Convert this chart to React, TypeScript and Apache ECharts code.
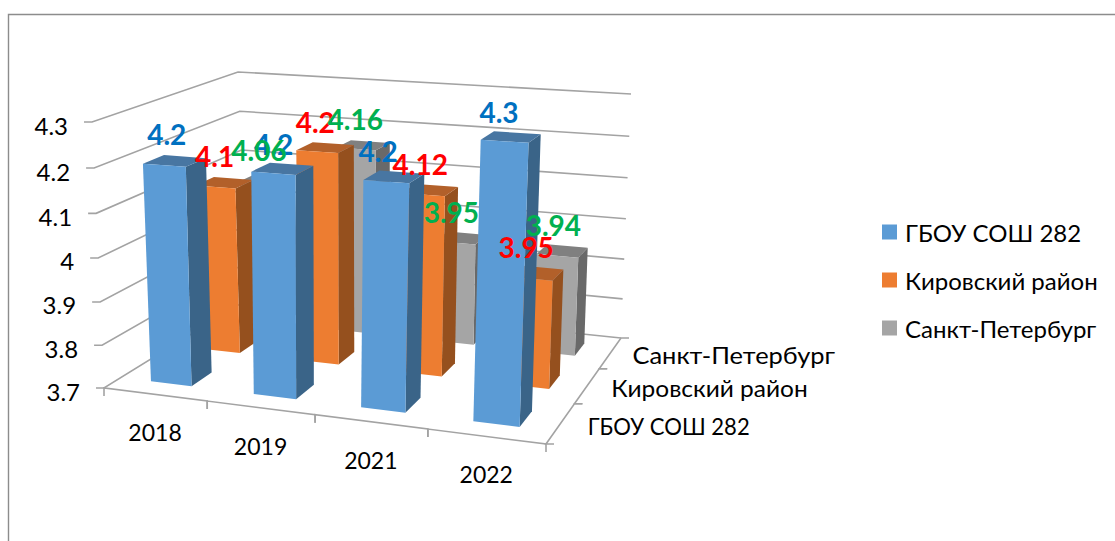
import React, { useEffect, useRef } from "react";
import * as echarts from "echarts";

const categories = ["2018", "2019", "2021", "2022"];
const seriesNames = ["ГБОУ СОШ 282", "Кировский район", "Санкт-Петербург"];
const schoolValues = [4.2, 4.2, 4.2, 4.3];
const districtValues = [4.1, 4.2, 4.12, 3.95];
const cityValues = [4.06, 4.16, 3.95, 3.94];
const valueTicks = [3.7, 3.8, 3.9, 4, 4.1, 4.2, 4.3];

const FONT = 'Lato, "Noto Sans", sans-serif';
const GRID_W = 1000;
const GRID_H = 500;
type P = [number, number];

function quadMap(q: P[]) {
  const [p0, p1, p2, p3] = q;
  const dx1 = p1[0] - p2[0], dx2 = p3[0] - p2[0], sx = p0[0] - p1[0] + p2[0] - p3[0];
  const dy1 = p1[1] - p2[1], dy2 = p3[1] - p2[1], sy = p0[1] - p1[1] + p2[1] - p3[1];
  const den = dx1 * dy2 - dx2 * dy1;
  const g = (sx * dy2 - dx2 * sy) / den;
  const h = (dx1 * sy - sx * dy1) / den;
  const a = p1[0] - p0[0] + g * p1[0], b = p3[0] - p0[0] + h * p3[0];
  const d = p1[1] - p0[1] + g * p1[1], e = p3[1] - p0[1] + h * p3[1];
  return (u: number, v: number): P => {
    const w = 1 + g * u + h * v;
    return [(a * u + b * v + p0[0]) / w, (d * u + e * v + p0[1]) / w];
  };
}
const floor = quadMap([[104, 388], [546, 444], [621, 338], [248, 299]]);
const ceiling = quadMap([[92, 122], [556, 152], [631, 94], [238, 72]]);
const WZ = -0.044;
// x: along categories, y: depth (0 = front), z: height; all 0..1
function project(x: number, y: number, z: number): P {
  const a = floor(x, y), b = ceiling(x, y);
  const t = (z * (1 + WZ)) / (1 + WZ * z);
  return [a[0] + (b[0] - a[0]) * t, a[1] + (b[1] - a[1]) * t];
}

const normX = (api: any, i: number) => api.coord([i, 3.7])[0] / GRID_W;
const normZ = (api: any, v: number) => 1 - api.coord([0, v])[1] / GRID_H;
const LINE = { stroke: "#a3a3a3", lineWidth: 1.6, fill: "none" };
const poly = (points: P[], fill: string) => ({ type: "polygon", shape: { points }, style: { fill }, silent: true });
const line = (points: P[]) => ({ type: "polyline", shape: { points }, style: LINE, silent: true });
const text = (t: string, p: P, fill: string, fontSize: number, align: string, fontWeight = "normal", scaleX = 1) => ({
  type: "text",
  x: p[0],
  y: p[1],
  scaleX,
  silent: true,
  style: { text: t, fill, fontSize, fontFamily: FONT, fontWeight, align, verticalAlign: "middle" },
});

const shades = [
  { front: "#5b9bd5", side: "#3a6488", top: "#4876a2" },
  { front: "#ed7d31", side: "#95501e", top: "#b2602a" },
  { front: "#a5a5a5", side: "#696969", top: "#808080" },
];
const labelColors = ["#0070c0", "#ff0000", "#00b050"];
// hand placement of the data labels relative to each bar's top centre
const labelShift: P[][] = [
  [[-8, -27], [-9, -25], [-16, -26], [-12, -25]],
  [[-10, -27], [-10, -26], [-10, -26], [-10, -26]],
  [[-9, -28], [-8, -26], [-10, -26], [-9, -26]],
];
const depthLabelScale = [0.92, 1.02, 1.06];

const barSeries = (row: number, values: number[]) => ({
  type: "custom",
  name: seriesNames[row],
  coordinateSystem: "cartesian2d",
  clip: false,
  itemStyle: { color: shades[row].front },
  data: values.map((v, i) => [i, v]),
  renderItem: (_: any, api: any) => {
    const cx = normX(api, api.value(0));
    const half = (api.size([1, 0])[0] / GRID_W) * 0.2;
    const z0 = normZ(api, 3.7);
    const z1 = normZ(api, api.value(1));
    const y0 = row / 3 + 0.1;
    const y1 = y0 + 1 / 3 / 2.5;
    const x0 = cx - half, x1 = cx + half;
    const s = shades[row];
    return {
      type: "group",
      children: [
        poly([project(x1, y0, z0), project(x1, y1, z0), project(x1, y1, z1), project(x1, y0, z1)], s.side),
        poly([project(x0, y0, z1), project(x1, y0, z1), project(x1, y1, z1), project(x0, y1, z1)], s.top),
        poly([project(x0, y0, z0), project(x1, y0, z0), project(x1, y0, z1), project(x0, y0, z1)], s.front),
      ],
    };
  },
});

const labelSeries = (row: number, values: number[]) => ({
  type: "custom",
  coordinateSystem: "cartesian2d",
  clip: false,
  z: 5,
  data: values.map((v, i) => [i, v]),
  renderItem: (_: any, api: any) => {
    const i = api.value(0);
    const v = api.value(1);
    const y = row / 3 + 1 / 6;
    const p = project(normX(api, i), y, normZ(api, v));
    const d = labelShift[row][i];
    return text(String(v), [p[0] + d[0], p[1] + d[1]], labelColors[row], 28, "center", "bold");
  },
});

const valueAxisSeries = {
  type: "custom",
  coordinateSystem: "cartesian2d",
  clip: false,
  data: valueTicks.map((v) => [0, v]),
  renderItem: (_: any, api: any) => {
    const v = api.value(1);
    const z = normZ(api, v);
    const a = project(0, 0, z);
    return {
      type: "group",
      children: [
        line([[a[0] - 8, a[1]], a, project(0, 1, z), project(1, 1, z)]),
        text(String(v), [a[0] - 24, a[1] + 3], "#000", 24, "right"),
      ],
    };
  },
};

const frontAxisSeries = {
  type: "custom",
  coordinateSystem: "cartesian2d",
  clip: false,
  data: categories.map((_, i) => [i, 3.7]),
  renderItem: (_: any, api: any) => {
    const i = api.value(0);
    const half = (api.size([1, 0])[0] / GRID_W) / 2;
    const cx = normX(api, i);
    const a = project(cx - half, 0, 0);
    const b = project(cx + half, 0, 0);
    const c = project(cx, 0, 0);
    return {
      type: "group",
      children: [
        line([[a[0], a[1] + 8], a, b, [b[0], b[1] + 8]]),
        text(categories[i], [c[0], c[1] + 38], "#000", 23, "center"),
      ],
    };
  },
};

const depthAxisSeries = {
  type: "custom",
  coordinateSystem: "cartesian2d",
  clip: false,
  data: seriesNames.map((_, i) => [0, i]),
  renderItem: (_: any, api: any) => {
    const i = api.value(1);
    const a = project(1, i / 3, 0);
    const b = project(1, (i + 1) / 3, 0);
    const c = project(1, (i + 0.5) / 3, 0);
    return {
      type: "group",
      children: [
        line([[a[0] + 8, a[1]], a, b, [b[0] + 8, b[1]]]),
        text(seriesNames[i], [c[0] + [27, 24, 22][i], c[1] + 2], "#000", 24, "left", "normal", depthLabelScale[i]),
      ],
    };
  },
};

export default function App() {
  const ref = useRef<HTMLDivElement>(null);
  useEffect(() => {
    document.body.style.margin = "0";
    const chart = echarts.init(ref.current!, undefined, { renderer: "svg" });
    chart.setOption({
      animation: false,
      backgroundColor: "#fff",
      tooltip: { show: false },
      grid: { left: 0, top: 0, width: GRID_W, height: GRID_H, show: false },
      xAxis: { type: "category", data: categories, show: false },
      yAxis: { type: "value", min: 3.7, max: 4.3, show: false },
      legend: {
        data: seriesNames,
        orient: "vertical",
        left: 877,
        top: 214,
        icon: "rect",
        itemWidth: 15,
        itemHeight: 15,
        itemGap: 22,
        selectedMode: false,
        textStyle: { fontFamily: FONT, fontSize: 24, color: "#000", lineHeight: 26, padding: [0, 0, 0, 3] },
      },
      graphic: [
        {
          type: "polyline",
          shape: { points: [[8.5, 541], [8.5, 14.5], [1115, 14.5]] },
          style: { stroke: "#8c8c8c", lineWidth: 1.4, fill: "none" },
          silent: true,
        },
      ],
      series: [
        valueAxisSeries,
        frontAxisSeries,
        depthAxisSeries,
        barSeries(2, cityValues),
        barSeries(1, districtValues),
        barSeries(0, schoolValues),
        labelSeries(0, schoolValues),
        labelSeries(1, districtValues),
        labelSeries(2, cityValues),
      ],
    });
    return () => chart.dispose();
  }, []);
  return <div ref={ref} style={{ width: 1115, height: 541 }} />;
}
